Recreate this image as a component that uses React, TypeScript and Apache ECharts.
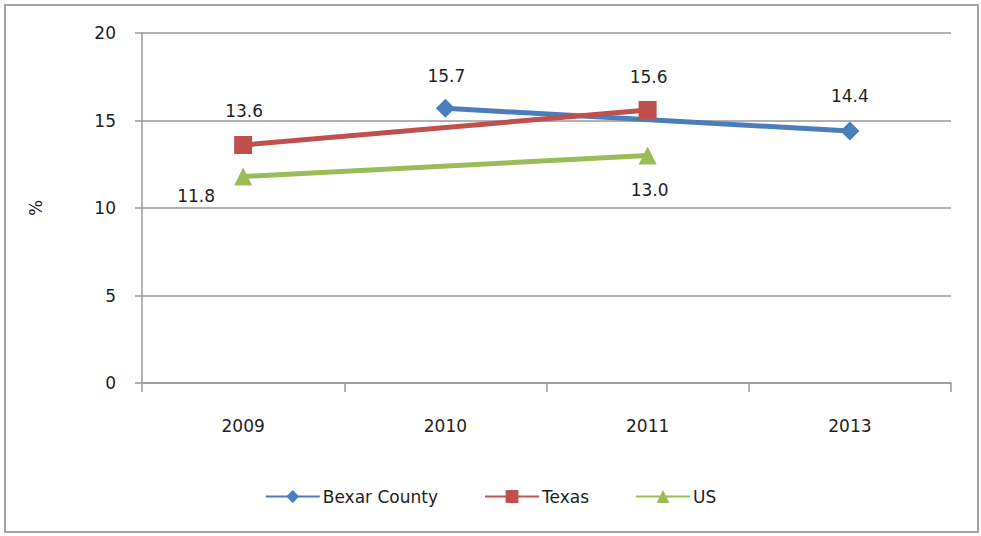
import React, { useEffect, useRef } from "react";
import * as echarts from "echarts";

const categories = ["2009", "2010", "2011", "2013"];
const bexarCounty = [null, 15.7, null, 14.4];
const texas = [13.6, null, 15.6, null];
const us = [11.8, null, 13.0, null];
const yTicks = { min: 0, max: 20, interval: 5 };

const FONT = "DejaVu Sans";
const TEXT = "#1e1e1e";

// label offsets (style only), per series key and category index
const labelOffsets: Record<string, Record<number, [number, number]>> = {
  bexar: { 1: [1, -32], 3: [0, -35] },
  texas: { 0: [1, -34], 2: [1, -33] },
  us: { 0: [-47, 19], 2: [2, 34] },
};

function buildData(values: (number | null)[], key: string) {
  return values.map((v, i) => {
    if (v === null) return null;
    const off = labelOffsets[key][i] || [0, -30];
    return {
      value: v,
      label: {
        show: true,
        position: "inside",
        offset: off,
        formatter: (p: any) => Number(p.value).toFixed(1),
        color: TEXT,
        fontFamily: FONT,
        fontSize: 17,
      },
    };
  });
}

export default function App() {
  const ref = useRef<HTMLDivElement>(null);
  useEffect(() => {
    if (!ref.current) return;
    const chart = echarts.init(ref.current, null, { renderer: "svg" });
    const lineSeries = (
      name: string,
      key: string,
      values: (number | null)[],
      color: string,
      symbol: string,
      size: number
    ) => ({
      name,
      type: "line",
      data: buildData(values, key),
      connectNulls: true,
      symbol,
      symbolSize: size,
      showAllSymbol: true,
      lineStyle: { color, width: 5 },
      itemStyle: { color },
      emphasis: { disabled: true },
    });
    chart.setOption({
      animation: false,
      backgroundColor: "#ffffff",
      graphic: [
        {
          type: "rect",
          shape: { x: 5, y: 5, width: 973, height: 527 },
          style: { fill: "none", stroke: "#a3a3a3", lineWidth: 2 },
          silent: true,
        },
      ],
      grid: { left: 142, top: 33, right: 30, bottom: 153 },
      legend: {
        left: "center",
        top: 483,
        itemWidth: 54,
        itemHeight: 16,
        itemGap: 46,
        textStyle: { fontFamily: FONT, fontSize: 17, color: TEXT, padding: [0, 0, 0, -2] },
        data: ["Bexar County", "Texas", "US"],
      },
      xAxis: {
        type: "category",
        data: categories,
        boundaryGap: true,
        axisLine: { lineStyle: { color: "#999", width: 1.5 } },
        axisTick: { show: true, length: 9, lineStyle: { color: "#999", width: 1.5 } },
        axisLabel: { margin: 34, fontFamily: FONT, fontSize: 17, color: TEXT },
      },
      yAxis: {
        type: "value",
        min: yTicks.min,
        max: yTicks.max,
        interval: yTicks.interval,
        name: "%",
        nameLocation: "middle",
        nameGap: 98,
        nameRotate: 90,
        nameTextStyle: { fontFamily: FONT, fontSize: 17, color: TEXT },
        axisLine: { show: true, lineStyle: { color: "#999", width: 1.5 } },
        axisTick: { show: true, length: 7, lineStyle: { color: "#999", width: 1.5 } },
        axisLabel: { margin: 26, fontFamily: FONT, fontSize: 17, color: TEXT },
        splitLine: { show: true, lineStyle: { color: "#999", width: 1.5 } },
      },
      series: [
        lineSeries("Bexar County", "bexar", bexarCounty, "#4a7ebb", "diamond", 19),
        lineSeries("Texas", "texas", texas, "#c0504d", "rect", 18),
        lineSeries("US", "us", us, "#9bbb59", "triangle", 18),
      ],
    });
    return () => chart.dispose();
  }, []);
  return (
    <div
      ref={ref}
      style={{ position: "fixed", left: 0, top: 0, width: 981, height: 536, background: "#fff" }}
    />
  );
}
